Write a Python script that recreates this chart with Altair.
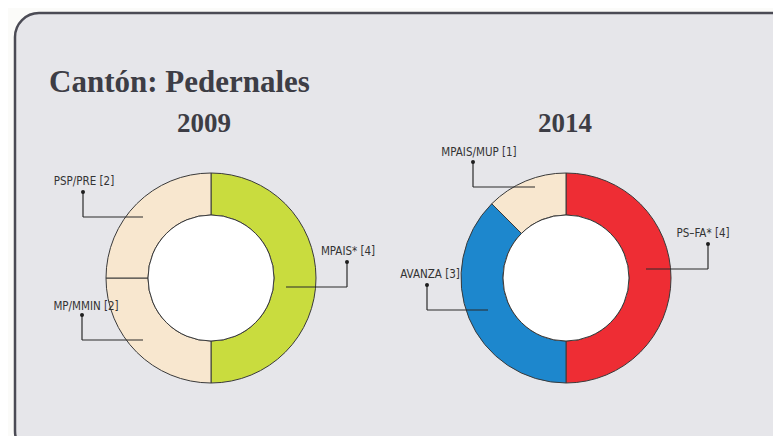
import math
import altair as alt
import pandas as pd

# ---------------- data ----------------
title_text = "Cantón: Pedernales"
years = ["2009", "2014"]

names_2009 = ["MPAIS*", "MP/MMIN", "PSP/PRE"]
seats_2009 = [4, 2, 2]
colors_2009 = ["#c9dc3e", "#f8e7cf", "#f8e7cf"]

names_2014 = ["PS–FA*", "AVANZA", "MPAIS/MUP"]
seats_2014 = [4, 3, 1]
colors_2014 = ["#ee2d34", "#1d87cd", "#f8e7cf"]

# ---------------- layout (pixels in chart coordinates) ----------------
W, H = 765, 428
CENTERS = {"2009": (203, 270), "2014": (558, 270)}
R_OUT, R_IN = 105, 63
YEAR_POS = {"2009": (196, 124), "2014": (557, 124)}
TITLE_POS = (41, 84)
FRAME = (7, 787, 5, 447)
# per slice: text x, text baseline y, dot x, dot y, elbow y, end x
LEADERS = {
    "2009": [(340, 247, 339, 254, 279, 278),
             (78, 302, 74, 307, 332, 135),
             (76, 177, 75, 184, 209, 135)],
    "2014": [(695, 229, 700, 236, 261, 638),
             (422, 270, 419, 277, 302, 480),
             (471, 148, 465, 154, 179, 527)],
}

TEXT_DARK = "#3d3d45"
LINE_DARK = "#2a2a2a"

xs = alt.Scale(domain=[0, W], nice=False, zero=False)
ys = alt.Scale(domain=[0, H], nice=False, zero=False, reverse=True)

frame = alt.Chart(pd.DataFrame({"x": [FRAME[0]], "x2": [FRAME[1]],
                                "y": [FRAME[2]], "y2": [FRAME[3]]})).mark_rect(
    cornerRadius=24, fill="#e6e6ea", stroke="#4b4b55", strokeWidth=2.5
).encode(
    x=alt.X("x:Q", scale=xs, axis=None), x2="x2:Q",
    y=alt.Y("y:Q", scale=ys, axis=None), y2="y2:Q",
)

title = alt.Chart(pd.DataFrame({"x": [TITLE_POS[0]], "y": [TITLE_POS[1]],
                                "t": [title_text]})).mark_text(
    align="left", baseline="alphabetic", font="Liberation Serif",
    fontWeight="bold", fontSize=31, color=TEXT_DARK
).encode(
    x=alt.X("x:Q", scale=xs, axis=None),
    y=alt.Y("y:Q", scale=ys, axis=None),
    text="t:N",
)

layers = [frame, title]

series = {"2009": (names_2009, seats_2009, colors_2009),
          "2014": (names_2014, seats_2014, colors_2014)}

for yr in years:
    names, seats, cols = series[yr]
    cx, cy = CENTERS[yr]
    df = pd.DataFrame({
        "party": names,
        "seats": seats,
        "color": cols,
        "order": list(range(len(names))),
        "label": [f"{n} [{s}]" for n, s in zip(names, seats)],
    })
    ring = alt.Chart(df).mark_arc(
        innerRadius=R_IN, outerRadius=R_OUT, x=cx, y=cy,
        stroke="#3a3a3a", strokeWidth=1
    ).encode(
        theta=alt.Theta("seats:Q", stack=True),
        color=alt.Color("color:N", scale=None),
        order=alt.Order("order:Q"),
    )
    hole = alt.Chart(pd.DataFrame({"year": [yr]})).mark_arc(
        innerRadius=0, outerRadius=R_IN, x=cx, y=cy,
        theta=0, theta2=2 * math.pi,
        stroke="#3a3a3a", strokeWidth=1
    ).encode(color=alt.value("#ffffff"))

    yx, yy = YEAR_POS[yr]
    ytext = alt.Chart(pd.DataFrame({"x": [yx], "y": [yy], "t": [yr]})).mark_text(
        align="center", baseline="alphabetic", font="Liberation Serif",
        fontWeight="bold", fontSize=27, color=TEXT_DARK
    ).encode(
        x=alt.X("x:Q", scale=xs, axis=None),
        y=alt.Y("y:Q", scale=ys, axis=None),
        text="t:N",
    )

    lead = LEADERS[yr]
    lab_df = pd.DataFrame({
        "tx": [l[0] for l in lead], "ty": [l[1] for l in lead],
        "label": df["label"],
    })
    labels = alt.Chart(lab_df).mark_text(
        align="center", baseline="alphabetic",
        font="Liberation Sans Narrow, DejaVu Sans Condensed, sans-serif",
        fontSize=11.5, color="#333333"
    ).encode(
        x=alt.X("tx:Q", scale=xs, axis=None),
        y=alt.Y("ty:Q", scale=ys, axis=None),
        text="label:N",
    )
    segs = []
    for l in lead:
        segs.append({"x": l[2], "y": l[3], "x2": l[2], "y2": l[4]})
        segs.append({"x": l[2], "y": l[4], "x2": l[5], "y2": l[4]})
    rules = alt.Chart(pd.DataFrame(segs)).mark_rule(
        color=LINE_DARK, strokeWidth=1.2
    ).encode(
        x=alt.X("x:Q", scale=xs, axis=None), x2="x2:Q",
        y=alt.Y("y:Q", scale=ys, axis=None), y2="y2:Q",
    )
    dots = alt.Chart(pd.DataFrame({"x": [l[2] for l in lead],
                                   "y": [l[3] for l in lead]})).mark_circle(
        size=16, color="#1e1e1e", opacity=1
    ).encode(
        x=alt.X("x:Q", scale=xs, axis=None),
        y=alt.Y("y:Q", scale=ys, axis=None),
    )
    layers += [ring, hole, ytext, rules, dots, labels]

chart = alt.layer(*layers).properties(
    width=W, height=H, padding=0, autosize="none", background="#fbfbf9"
).configure_view(strokeWidth=0)

chart.save("out.html", embed_options={"renderer": "svg", "actions": False})
